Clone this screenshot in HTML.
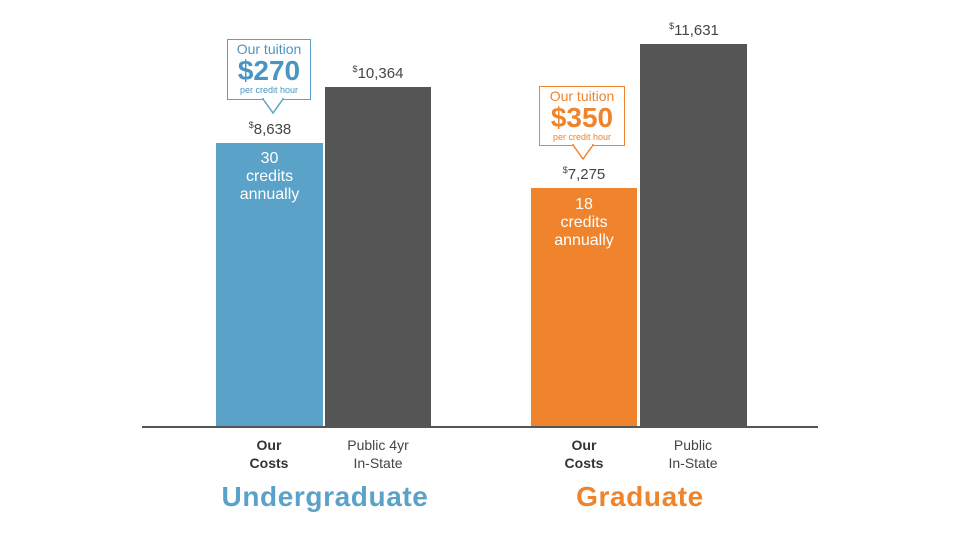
<!DOCTYPE html>
<html><head><style>
body{margin:0;width:960px;height:540px;background:#fff;position:relative;overflow:hidden;font-family:"Liberation Sans",sans-serif;}
.a{position:absolute;}
.bar{position:absolute;}
.v{position:absolute;width:120px;text-align:center;font-size:15px;color:#444;}
.v sup{font-size:9px;vertical-align:6px;}
.in{position:absolute;text-align:center;color:#fff;font-size:16px;line-height:18px;}
.lab{position:absolute;width:110px;text-align:center;font-size:14px;line-height:18px;color:#444;}
.box{position:absolute;background:#fff;border:1.5px solid;text-align:center;box-sizing:border-box;}
</style></head><body>
<div class="bar" style="left:216px;top:143px;width:107px;height:284px;background:#5aa2c8"></div>
<div class="bar" style="left:325px;top:87px;width:106px;height:340px;background:#555"></div>
<div class="bar" style="left:531px;top:188px;width:106px;height:239px;background:#f0842c"></div>
<div class="bar" style="left:640px;top:44px;width:107px;height:383px;background:#555"></div>
<div class="a" style="left:142px;top:426px;width:676px;height:1.5px;background:#555"></div>

<div class="v" style="left:210px;top:120px"><sup>$</sup>8,638</div>
<div class="v" style="left:318px;top:64px"><sup>$</sup>10,364</div>
<div class="v" style="left:524px;top:165px"><sup>$</sup>7,275</div>
<div class="v" style="left:634px;top:21px"><sup>$</sup>11,631</div>

<div class="in" style="left:216px;top:150px;width:107px">30<br>credits<br>annually</div>
<div class="in" style="left:531px;top:196px;width:106px">18<br>credits<br>annually</div>

<div class="box" style="left:227px;top:39px;width:84px;height:61px;border-color:#5aa2c8;color:#4a95c0">
<div style="font-size:14px;line-height:15px;margin-top:2px">Our tuition</div>
<div style="font-size:28px;font-weight:bold;line-height:28px">$270</div>
<div style="font-size:9px;line-height:10px">per credit hour</div></div>
<svg class="a" style="left:262px;top:98px" width="22" height="17"><polygon points="1,1 21,1 11,15" fill="#fff" stroke="#5aa2c8" stroke-width="1.5"/><rect x="2" y="0" width="18" height="2" fill="#fff"/></svg>

<div class="box" style="left:539px;top:86px;width:86px;height:60px;border-color:#f0842c;color:#f0842c">
<div style="font-size:14px;line-height:15px;margin-top:2px">Our tuition</div>
<div style="font-size:28px;font-weight:bold;line-height:28px">$350</div>
<div style="font-size:9px;line-height:10px">per credit hour</div></div>
<svg class="a" style="left:572px;top:144px" width="22" height="17"><polygon points="1,1 21,1 11,15" fill="#fff" stroke="#f0842c" stroke-width="1.5"/><rect x="2" y="0" width="18" height="2" fill="#fff"/></svg>

<div class="lab" style="left:214px;top:436px;font-weight:bold;color:#333">Our<br>Costs</div>
<div class="lab" style="left:323px;top:436px">Public 4yr<br>In-State</div>
<div class="lab" style="left:529px;top:436px;font-weight:bold;color:#333">Our<br>Costs</div>
<div class="lab" style="left:638px;top:436px">Public<br>In-State</div>

<div class="a" style="left:200px;top:481px;width:250px;text-align:center;font-size:28px;letter-spacing:0.6px;font-weight:bold;color:#5aa2c8">Undergraduate</div>
<div class="a" style="left:530px;top:481px;width:220px;text-align:center;font-size:28px;letter-spacing:0.6px;font-weight:bold;color:#f0842c">Graduate</div>
</body></html>
